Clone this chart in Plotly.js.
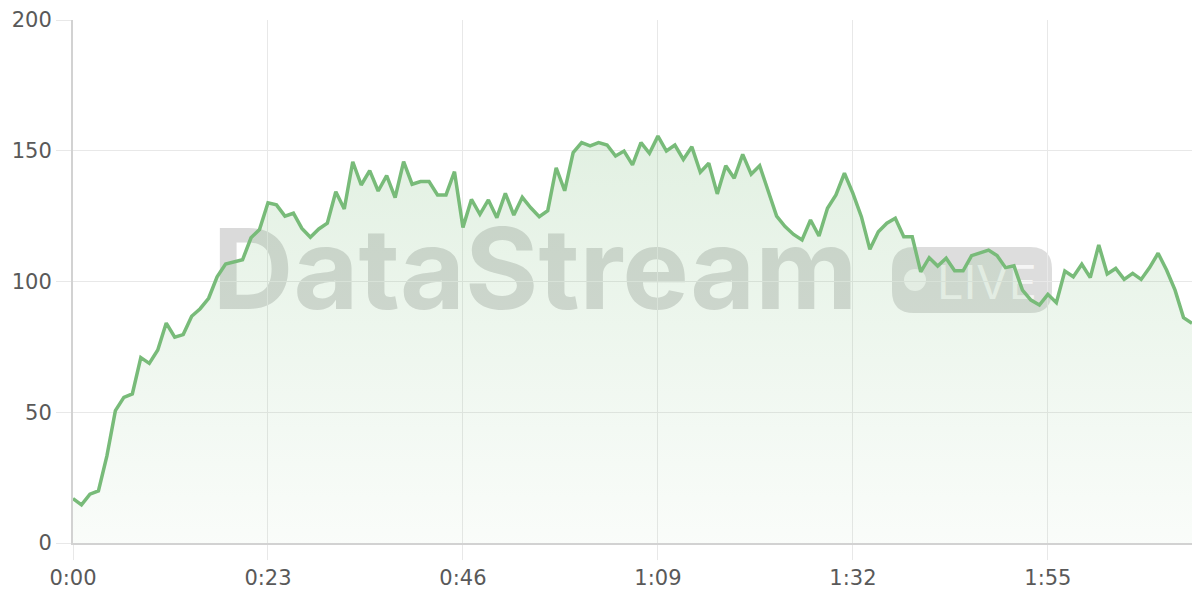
<!DOCTYPE html>
<html>
<head>
<meta charset="utf-8">
<script src="https://cdn.plot.ly/plotly-3.0.1.min.js"></script>
<style>
  html, body { margin: 0; padding: 0; background: #ffffff; }
  #chart { width: 1200px; height: 600px; }
</style>
</head>
<body>
<div id="chart"></div>
<script>
// Values, one sample per second (0:00 .. 2:12)
const heartRate = [
  17.0,14.6,18.7,19.9,33.3,50.6,55.7,57.0,70.9,68.7,
  73.8,84.1,78.7,79.7,86.7,89.6,93.6,101.8,106.7,107.5,
  108.3,116.7,119.9,130.1,129.3,125.0,126.1,120.3,116.9,120.1,
  122.3,134.3,127.7,145.8,136.9,142.4,134.6,140.5,132.1,145.8,
  137.2,138.2,138.2,133.1,133.1,142.0,120.7,131.4,125.7,131.2,
  124.4,133.7,125.4,132.2,128.2,124.8,127.1,143.5,134.7,149.3,
  153.1,151.9,153.1,152.2,148.0,149.9,144.6,153.1,149.0,155.6,
  149.9,152.2,146.7,151.5,141.8,145.2,133.5,144.3,139.5,148.6,
  141.0,144.3,135.0,125.0,121.0,118.0,115.9,123.5,117.4,128.0,
  133.1,141.4,133.7,124.8,112.3,119.0,122.3,124.2,117.1,117.1,
  103.7,109.1,105.9,108.9,104.1,104.1,109.9,111.0,112.0,109.9,
  105.3,106.0,96.7,92.9,91.0,95.1,91.9,104.0,101.8,106.6,
  101.5,114.0,102.9,105.0,100.8,103.1,100.8,105.3,110.8,104.4,
  96.7,86.2,84.0
];
const xTickVals = [0, 23, 46, 69, 92, 115];
const xTickText = ['0:00', '0:23', '0:46', '1:09', '1:32', '1:55'];
const yTickVals = [0, 50, 100, 150, 200];
const watermarkText = 'DataStream';
const badgeText = 'LIVE';

// ---- layout geometry (pixels of the 1200x600 page) ----
const M = { l: 73, r: 8, t: 20, b: 57 };
const plotW = 1200 - M.l - M.r;
const plotH = 600 - M.t - M.b;
const px = v => (v - M.l) / plotW;          // page x -> paper x
const py = v => (600 - M.b - v) / plotH;    // page y -> paper y

function roundedRectPath(x0, y0, x1, y1, r) {
  const rx = r / plotW, ry = r / plotH;
  const a = px(x0), b = px(x1), top = py(y0), bot = py(y1);
  return `M ${a + rx} ${top} L ${b - rx} ${top} Q ${b} ${top} ${b} ${top - ry} ` +
         `L ${b} ${bot + ry} Q ${b} ${bot} ${b - rx} ${bot} ` +
         `L ${a + rx} ${bot} Q ${a} ${bot} ${a} ${bot + ry} ` +
         `L ${a} ${top - ry} Q ${a} ${top} ${a + rx} ${top} Z`;
}

const FONT = 'Inter, "Noto Sans", "DejaVu Sans", sans-serif';
const TICKFONT = '"DejaVu Sans", Inter, sans-serif';
const GRID = '#e8e8e8';
const AXIS = '#d2d2d2';
const GREEN = '#78bb79';

const trace = {
  y: heartRate,
  type: 'scatter',
  mode: 'lines',
  line: { color: GREEN, width: 3.5, shape: 'linear' },
  fill: 'tozeroy',
  fillgradient: {
    type: 'vertical',
    start: 0,
    stop: 160,
    colorscale: [[0, 'rgba(120,187,121,0.04)'], [1, 'rgba(120,187,121,0.22)']]
  },
  hoverinfo: 'skip'
};

const axisCommon = {
  showgrid: true,
  gridcolor: GRID,
  gridwidth: 1,
  zeroline: false,
  showline: true,
  linecolor: AXIS,
  linewidth: 2,
  ticks: 'outside',
  ticklen: 15,
  tickcolor: GRID,
  tickwidth: 1,
  tickfont: { family: TICKFONT, size: 21, color: '#595959' },
  fixedrange: true
};

const layout = {
  width: 1200,
  height: 600,
  margin: M,
  paper_bgcolor: '#ffffff',
  plot_bgcolor: '#ffffff',
  showlegend: false,
  font: { family: FONT, color: '#595959', size: 20 },
  xaxis: Object.assign({
    range: [0, 132],
    tickmode: 'array',
    tickvals: xTickVals,
    ticktext: xTickText
  }, axisCommon),
  yaxis: Object.assign({
    range: [0, 200],
    tickmode: 'array',
    tickvals: yTickVals
  }, axisCommon),
  shapes: [
    {
      type: 'rect', xref: 'paper', yref: 'paper', layer: 'between',
      x0: px(200), x1: px(870), y0: py(325), y1: py(205),
      line: { width: 0 }, fillcolor: 'rgba(0,0,0,0)',
      label: {
        text: '<b>' + watermarkText + '</b>',
        textposition: 'middle center',
        font: { family: FONT, size: 112, color: 'rgba(120,120,120,0.27)' }
      }
    },
    {
      type: 'path', xref: 'paper', yref: 'paper', layer: 'between',
      path: roundedRectPath(892, 247, 1052, 313, 22),
      line: { width: 0 }, fillcolor: 'rgba(120,120,120,0.25)'
    },
    {
      type: 'circle', xref: 'paper', yref: 'paper', layer: 'between',
      x0: px(904), x1: px(926), y0: py(291), y1: py(269),
      line: { width: 0 }, fillcolor: 'rgba(255,255,255,0.72)'
    },
    {
      type: 'rect', xref: 'paper', yref: 'paper', layer: 'between',
      x0: px(934), x1: px(1040), y0: py(305), y1: py(255),
      line: { width: 0 }, fillcolor: 'rgba(0,0,0,0)',
      label: {
        text: badgeText,
        textposition: 'middle center',
        font: { family: FONT, size: 47, color: 'rgba(255,255,255,0.72)' }
      }
    }
  ]
};

Plotly.newPlot('chart', [trace], layout, { staticPlot: true, displayModeBar: false });
</script>
</body>
</html>
